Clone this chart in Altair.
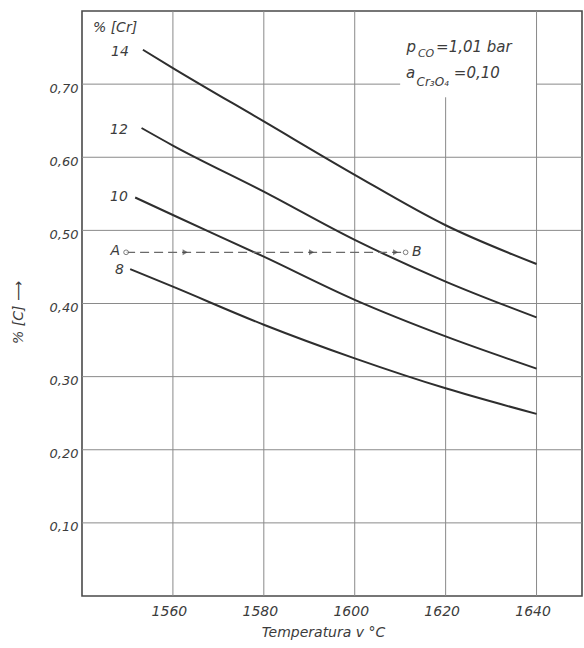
import altair as alt
import pandas as pd

# ---------------- data ----------------
T_DOMAIN = [1540, 1650]
C_DOMAIN = [0.0, 0.80]

x_ticks = [1560, 1580, 1600, 1620, 1640]
y_ticks = [0.10, 0.20, 0.30, 0.40, 0.50, 0.60, 0.70]

cr_levels = ["14", "12", "10", "8"]
temps_14 = [1553.4, 1560, 1580, 1600, 1620, 1640]
carbon_14 = [0.747, 0.722, 0.649, 0.576, 0.507, 0.454]
temps_12 = [1553.1, 1560, 1580, 1600, 1620, 1640]
carbon_12 = [0.640, 0.616, 0.553, 0.487, 0.430, 0.381]
temps_10 = [1551.7, 1560, 1580, 1600, 1620, 1640]
carbon_10 = [0.545, 0.521, 0.464, 0.405, 0.355, 0.311]
temps_8 = [1550.6, 1560, 1580, 1600, 1620, 1640]
carbon_8 = [0.447, 0.423, 0.371, 0.325, 0.284, 0.249]

# path A -> B (dashed, with arrows)
path_T = [1549.7, 1611.2]
path_C = [0.470, 0.470]
arrow_T = [1562.7, 1590.5, 1609.0]
point_names = ["A", "B"]

# grid pieces (the 1620 line and the 0.70 line leave room for the note)
vgrid_top = [0.80, 0.80, 0.80, 0.682, 0.80]
hgrid_07_from = [1540, 1640]
hgrid_07_to = [1610, 1650]

# ---------------- tables ----------------
curves = pd.concat([
    pd.DataFrame({"cr": lvl, "T": t, "C": c})
    for lvl, t, c in zip(cr_levels,
                         [temps_14, temps_12, temps_10, temps_8],
                         [carbon_14, carbon_12, carbon_10, carbon_8])
])

vgrid = pd.DataFrame({"T": x_ticks, "y0": [0.0] * len(x_ticks), "y1": vgrid_top})
hgrid = pd.DataFrame({
    "C": y_ticks[:-1] + [0.70, 0.70],
    "x0": [T_DOMAIN[0]] * (len(y_ticks) - 1) + hgrid_07_from,
    "x1": [T_DOMAIN[1]] * (len(y_ticks) - 1) + hgrid_07_to,
})

path_df = pd.DataFrame({"T": path_T, "C": path_C, "name": point_names})
arrow_df = pd.DataFrame({"T": arrow_T, "C": [path_C[0]] * len(arrow_T)})

curve_labels = pd.DataFrame({
    "text": cr_levels + ["A"],
    "T": [1550.3, 1550.1, 1550.1, 1549.2, 1548.4],
    "C": [0.744, 0.637, 0.546, 0.446, 0.472],
})
left_labels = pd.DataFrame({
    "text": ["% [Cr]", "B"],
    "T": [1542.4, 1612.6],
    "C": [0.777, 0.470],
})
note = pd.DataFrame({
    "text": ["p", "CO", "=1,01 bar", "a", "Cr₃O₄", "=0,10"],
    "T": [1611.4, 1613.9, 1617.9, 1611.3, 1613.6, 1621.8],
    "C": [0.744, 0.737, 0.744, 0.708, 0.698, 0.708],
    "size": [15, 11, 15, 15, 12, 15],
})

# ---------------- encodings ----------------
FONT = "DejaVu Sans"
INK = "#3c3c3c"

xs = alt.Scale(domain=T_DOMAIN, nice=False, zero=False)
ys = alt.Scale(domain=C_DOMAIN, nice=False, zero=False)

x_axis = alt.Axis(
    values=x_ticks, format="d", grid=False, ticks=False, domain=False,
    labelPadding=8, labelOffset=-4, labelFontSize=14,
    labelFont=FONT, labelFontStyle="italic", labelColor=INK,
    title="Temperatura v °C", titleX=241, titleY=36,
    titleBaseline="middle", titleAlign="center",
    titleFont=FONT, titleFontStyle="italic", titleFontWeight="normal",
    titleColor=INK, titleFontSize=14,
)
y_axis = alt.Axis(
    values=y_ticks, grid=False, ticks=False, domain=False,
    labelExpr="replace(format(datum.value, '.2f'), '.', ',')",
    labelPadding=4, labelOffset=4, labelFontSize=13,
    labelFont=FONT, labelFontStyle="italic", labelColor=INK,
    title="% [C]  ⟶", titleX=-64, titleY=301, titleAngle=270,
    titleBaseline="middle", titleAlign="center",
    titleFont=FONT, titleFontStyle="italic", titleFontWeight="normal",
    titleColor=INK, titleFontSize=14,
)

grid_v = alt.Chart(vgrid).mark_rule(color="#8a8a8a", strokeWidth=1).encode(
    x=alt.X("T:Q", scale=xs, axis=x_axis),
    y=alt.Y("y0:Q", scale=ys, axis=y_axis),
    y2="y1:Q",
)
grid_h = alt.Chart(hgrid).mark_rule(color="#8a8a8a", strokeWidth=1).encode(
    y=alt.Y("C:Q", scale=ys),
    x=alt.X("x0:Q", scale=xs),
    x2="x1:Q",
)

lines = alt.Chart(curves).mark_line(
    color="#2e2e2e", strokeWidth=2, interpolate="monotone"
).encode(
    x=alt.X("T:Q", scale=xs),
    y=alt.Y("C:Q", scale=ys),
    detail="cr:N",
)

path_line = alt.Chart(path_df).mark_line(
    color="#6a6a6a", strokeWidth=1.3, strokeDash=[9, 5]
).encode(x=alt.X("T:Q", scale=xs), y=alt.Y("C:Q", scale=ys))

path_pts = alt.Chart(path_df).mark_point(
    shape="circle", size=22, filled=True, fill="white", stroke="#444", strokeWidth=1
).encode(x=alt.X("T:Q", scale=xs), y=alt.Y("C:Q", scale=ys))

arrows = alt.Chart(arrow_df).mark_point(
    shape="triangle-right", size=35, filled=True, color="#444"
).encode(x=alt.X("T:Q", scale=xs), y=alt.Y("C:Q", scale=ys))

txt_right = alt.Chart(curve_labels).mark_text(
    align="right", baseline="middle", font=FONT, fontStyle="italic",
    fontSize=14, color=INK,
).encode(x=alt.X("T:Q", scale=xs), y=alt.Y("C:Q", scale=ys), text="text:N")

txt_left = alt.Chart(left_labels).mark_text(
    align="left", baseline="middle", font=FONT, fontStyle="italic",
    fontSize=14, color=INK,
).encode(x=alt.X("T:Q", scale=xs), y=alt.Y("C:Q", scale=ys), text="text:N")

txt_note = alt.Chart(note).mark_text(
    align="left", baseline="alphabetic", font=FONT, fontStyle="italic", color=INK,
).encode(
    x=alt.X("T:Q", scale=xs), y=alt.Y("C:Q", scale=ys), text="text:N",
    size=alt.Size("size:Q", scale=None, legend=None),
)

chart = alt.layer(
    grid_v, grid_h, lines, path_line, arrows, path_pts, txt_right, txt_left, txt_note
).properties(
    width=500, height=585,
    background="white",
    autosize=alt.AutoSizeParams(type="none"),
    padding={"left": 82, "top": 11, "right": 2, "bottom": 52},
).configure_view(
    stroke="#4a4a4a", strokeWidth=1.6, fill="white"
)

chart.save("out.html", embed_options={"renderer": "svg", "actions": False})
